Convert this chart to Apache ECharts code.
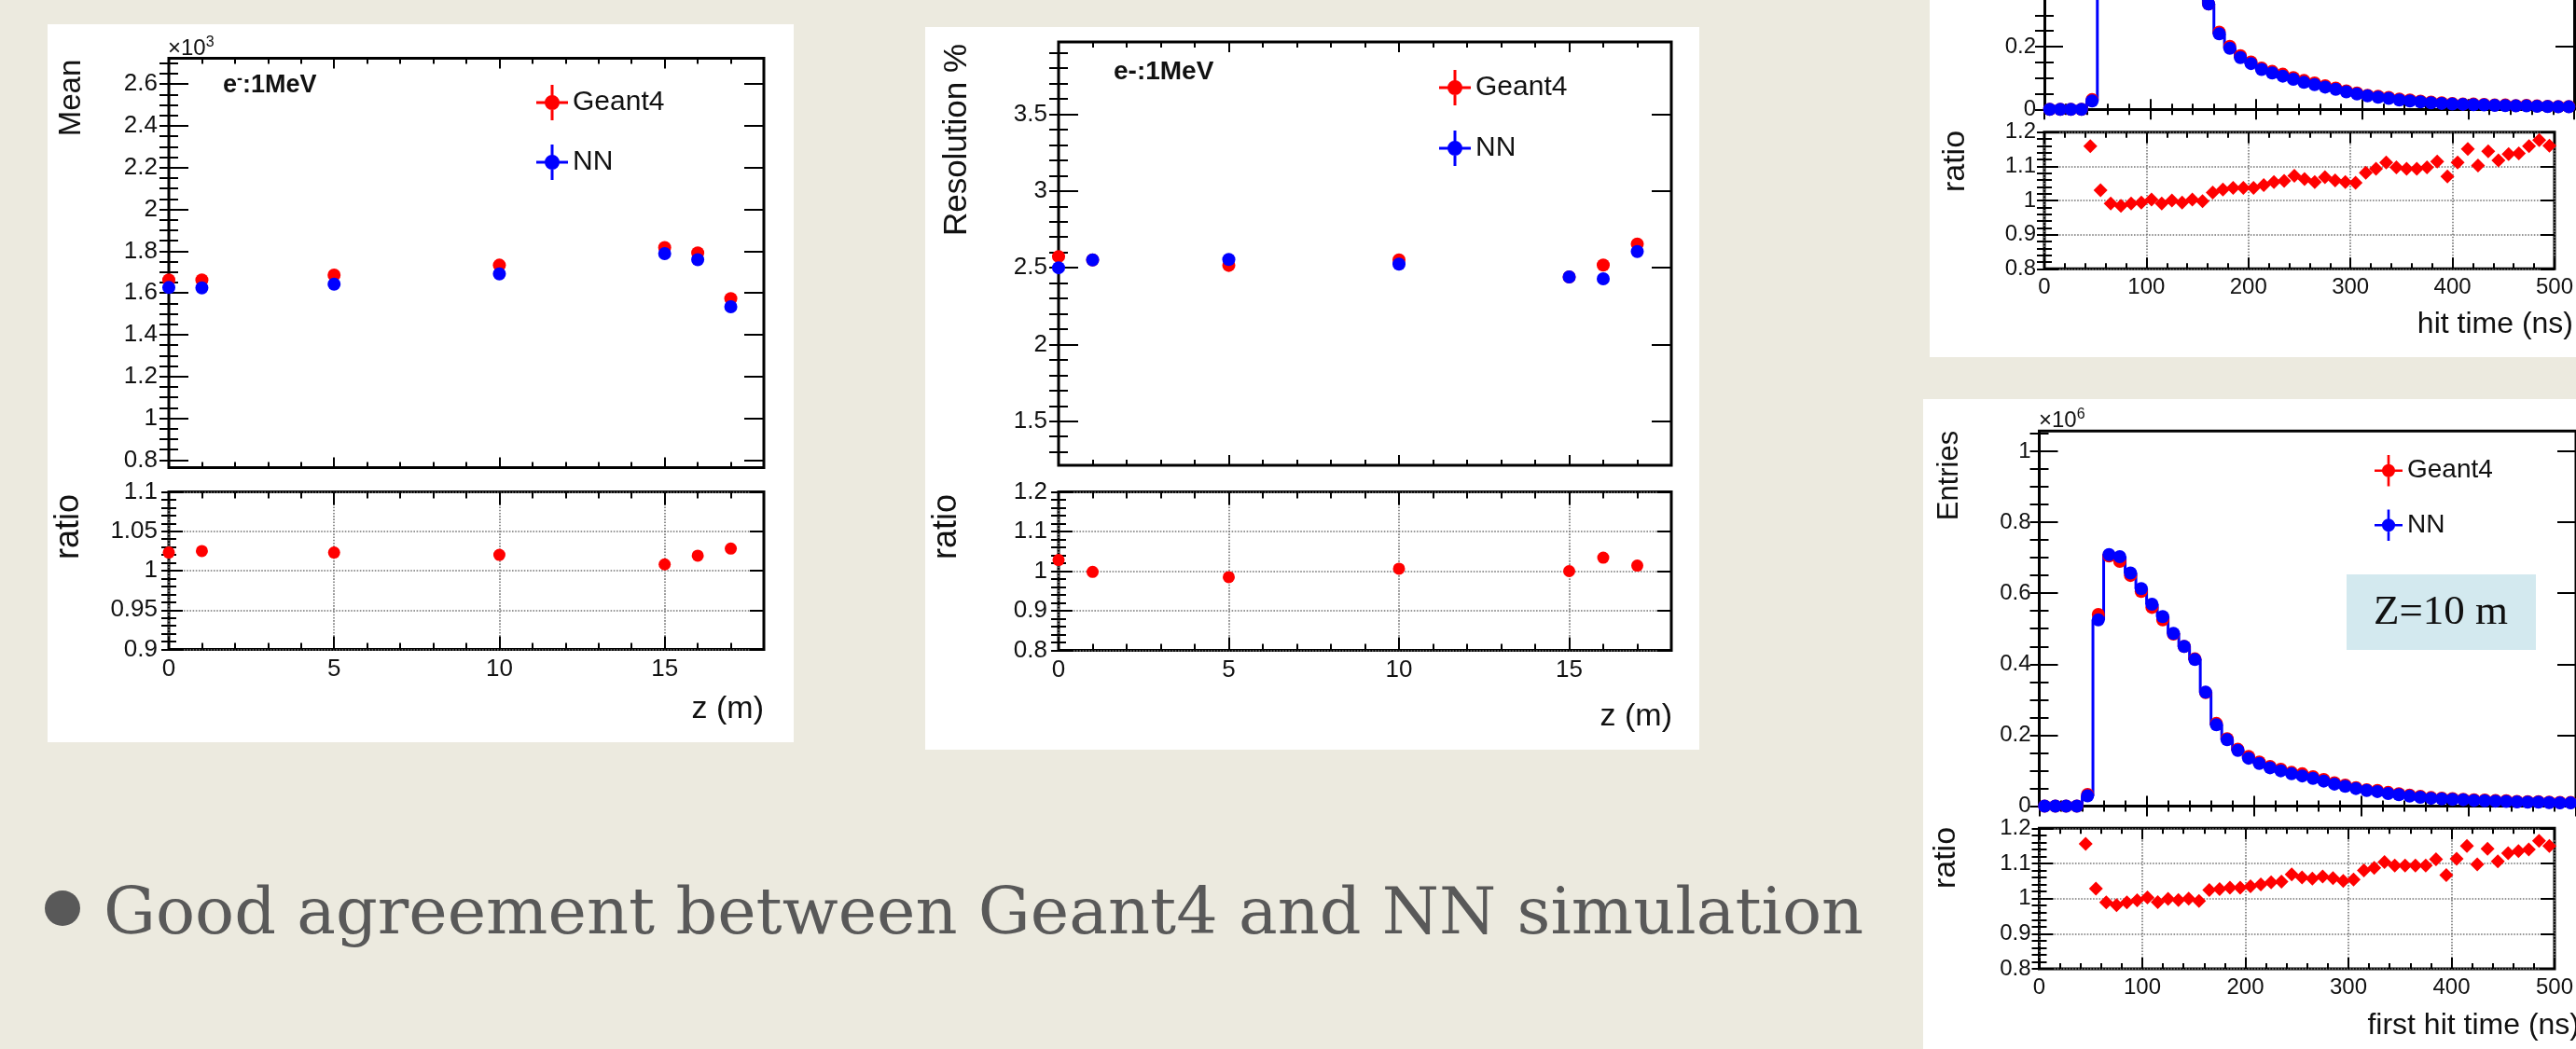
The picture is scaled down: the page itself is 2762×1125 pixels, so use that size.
<!DOCTYPE html>
<html>
<head>
<meta charset="utf-8">
<script src="https://cdn.jsdelivr.net/npm/echarts@6/dist/echarts.min.js"></script>
<style>
html,body{margin:0;padding:0;background:#ECEADF;overflow:hidden;}
.box{position:absolute;background:#fff;}
#c{position:absolute;left:0;top:0;width:2762px;height:1125px;}
</style>
</head>
<body>
<div class="box" style="left:51px;top:26px;width:800px;height:770px;"></div>
<div class="box" style="left:992px;top:29px;width:830px;height:775px;"></div>
<div class="box" style="left:2069px;top:0px;width:693px;height:383px;"></div>
<div class="box" style="left:2062px;top:428px;width:700px;height:697px;"></div>
<div id="c"></div>
<script>
// ---------------- data ----------------
const zPositions = [0, 1, 5, 10, 15, 16, 17];
const meanGeant4 = [1.662, 1.662, 1.686, 1.733, 1.817, 1.792, 1.573];
const meanNN     = [1.626, 1.624, 1.642, 1.691, 1.788, 1.759, 1.534];
const meanRatio  = [1.023, 1.025, 1.023, 1.020, 1.008, 1.019, 1.028];
const resGeant4  = [2.573, 2.551, 2.515, 2.551, 2.440, 2.518, 2.654];
const resNN      = [2.500, 2.551, 2.554, 2.524, 2.440, 2.428, 2.606];
const resRatio   = [1.028, 0.998, 0.985, 1.006, 1.000, 1.034, 1.014];
const resRatioErr = [0.013, 0.011, 0.011, 0.012, 0.011, 0.012, 0.012];

const binCenters = [5,15,25,35,45,55,65,75,85,95,105,115,125,135,145,155,165,175,185,195,
  205,215,225,235,245,255,265,275,285,295,305,315,325,335,345,355,365,375,385,395,
  405,415,425,435,445,455,465,475,485,495];

const hitNN = [0,0,0,0,0.027,0.525,0.709,0.703,0.657,0.613,0.569,0.534,0.487,0.450,0.413,0.336,0.241,0.195,0.165,0.146,
  0.127,0.116,0.106,0.096,0.086,0.079,0.071,0.064,0.056,0.049,0.043,0.039,0.035,0.030,0.027,0.024,0.021,0.019,0.017,0.016,
  0.015,0.014,0.013,0.012,0.011,0.011,0.010,0.009,0.008,0.008];
const hitGeant4 = [0,0,0,0,0.031,0.540,0.705,0.690,0.650,0.605,0.560,0.525,0.485,0.450,0.415,0.336,0.246,0.201,0.171,0.151,
  0.132,0.121,0.112,0.101,0.092,0.084,0.075,0.068,0.059,0.052,0.045,0.042,0.038,0.033,0.030,0.026,0.023,0.021,0.019,0.017,
  0.017,0.016,0.014,0.014,0.012,0.013,0.011,0.010,0.009,0.009];
const hitRatio = [null,null,null,null,1.159,1.030,0.991,0.984,0.991,0.994,1.003,0.991,1.000,0.994,1.003,0.998,1.023,1.032,1.037,1.037,
  1.037,1.045,1.054,1.057,1.072,1.063,1.054,1.068,1.059,1.054,1.052,1.081,1.093,1.111,1.097,1.093,1.093,1.097,1.114,1.070,
  1.111,1.151,1.102,1.144,1.117,1.136,1.138,1.159,1.177,1.160];

const firstHitNN = [0,0,0,0,0.029,0.525,0.709,0.703,0.657,0.613,0.569,0.534,0.487,0.450,0.413,0.321,0.229,0.187,0.157,0.135,
  0.120,0.108,0.0995,0.091,0.085,0.078,0.0705,0.062,0.056,0.0495,0.044,0.041,0.0355,0.032,0.028,0.025,0.022,0.0205,0.019,0.018,
  0.016,0.015,0.014,0.013,0.012,0.011,0.011,0.010,0.009,0.009];
const firstHitGeant4 = [0,0,0,0,0.033,0.540,0.705,0.690,0.650,0.605,0.560,0.525,0.485,0.450,0.415,0.320,0.233,0.190,0.160,0.140,
  0.124,0.112,0.104,0.095,0.091,0.083,0.075,0.066,0.059,0.052,0.046,0.044,0.0385,0.035,0.031,0.0275,0.024,0.0225,0.021,0.019,
  0.018,0.017,0.0155,0.015,0.013,0.0125,0.0125,0.0113,0.0104,0.0103];
const firstHitRatio = [null,null,null,null,1.156,1.028,0.989,0.981,0.989,0.995,1.003,0.990,0.999,0.996,1.000,0.993,1.024,1.027,1.031,1.031,
  1.035,1.040,1.046,1.048,1.069,1.060,1.057,1.063,1.058,1.050,1.054,1.080,1.087,1.104,1.094,1.094,1.094,1.094,1.112,1.067,
  1.113,1.150,1.097,1.142,1.106,1.129,1.135,1.140,1.164,1.150];

// tick labels
const zTicks = [0, 5, 10, 15];
const meanTicks = [0.8, 1, 1.2, 1.4, 1.6, 1.8, 2, 2.2, 2.4, 2.6];
const meanRatioTicks = [0.9, 0.95, 1, 1.05, 1.1];
const resTicks = [1.5, 2, 2.5, 3, 3.5];
const resRatioTicks = [0.8, 0.9, 1, 1.1, 1.2];
const timeTicks = [0, 100, 200, 300, 400, 500];
const entriesTicks = [0, 0.2, 0.4, 0.6, 0.8, 1];
const timeRatioTicks = [0.8, 0.9, 1, 1.1, 1.2];

// ---------------- helpers ----------------
const FONT = '"Liberation Sans", Arial, Helvetica, sans-serif';
const RED = '#ff0000', BLUE = '#0000ff', INK = '#111';
const option = {animation:false, grid:[], xAxis:[], yAxis:[], series:[], legend:[], graphic:[]};

function steps(min, max, step){
  const out = [];
  const s = Math.ceil(min/step - 1e-9);
  for (let i = s; i*step <= max + 1e-9; i++) out.push(+(i*step).toFixed(6));
  return out;
}
function fmt(v){ return String(+(+v).toFixed(4)); }

function addGrid(rect, xs, ys, openTop){
  const gi = option.grid.length;
  option.grid.push(Object.assign({show:!openTop, borderColor:'#000', borderWidth:3, backgroundColor:'transparent'}, rect));
  const xi = option.xAxis.length, yi = option.yAxis.length;
  const tick = {color:'#000', width:2};
  const frame = {show:!!openTop, onZero:false, lineStyle:{color:'#000', width:3}};
  const dotted = {type:'dotted', color:'#777', width:1.6};
  ['bottom','top'].forEach((pos,k)=>{
    option.xAxis.push({type:'value', gridIndex:gi, position:pos, min:xs.min, max:xs.max,
      axisLine: k===0 ? frame : {show:false},
      axisTick:{show:true, inside:true, length:xs.maj, lineStyle:tick, customValues:xs.major},
      axisLabel:{show:k===0 && !!xs.labels, customValues:xs.major, margin:xs.margin||8, fontSize:xs.fs||24,
        color:INK, fontFamily:FONT, formatter:fmt},
      splitLine:{show:k===0 && !!xs.grid, lineStyle:dotted}});
    option.xAxis.push({type:'value', gridIndex:gi, position:pos, min:xs.min, max:xs.max,
      axisLine:{show:false},
      axisTick:{show:true, inside:true, length:xs.mnr, lineStyle:tick, customValues:xs.minor},
      axisLabel:{show:false}, splitLine:{show:false}});
  });
  ['left','right'].forEach((pos,k)=>{
    option.yAxis.push({type:'value', gridIndex:gi, position:pos, min:ys.min, max:ys.max,
      axisLine: frame,
      axisTick:{show:true, inside:true, length:ys.maj, lineStyle:tick, customValues:ys.major},
      axisLabel:{show:k===0, customValues:ys.major, margin:ys.margin||12, fontSize:ys.fs||24,
        color:INK, fontFamily:FONT, formatter:fmt},
      splitLine:{show:k===0 && !!ys.grid, lineStyle:dotted}});
    option.yAxis.push({type:'value', gridIndex:gi, position:pos, min:ys.min, max:ys.max,
      axisLine:{show:false},
      axisTick:{show:true, inside:true, length:ys.mnr, lineStyle:tick, customValues:ys.minor},
      axisLabel:{show:false}, splitLine:{show:false}});
  });
  return {xi, yi};
}
function pairs(xs, ys){ const o=[]; xs.forEach((x,i)=>{ if (ys[i]!=null) o.push([x, ys[i]]); }); return o; }
function scatter(name, ax, data, color, symbol, size){
  option.series.push({type:'scatter', name, xAxisIndex:ax.xi, yAxisIndex:ax.yi, data,
    symbol, symbolSize:size, itemStyle:{color, opacity:1}, z:3, clip:true});
}
function errorBars(name, ax, xs, ys, errs, color){
  const data = xs.map((x,i)=>[x, ys[i]-errs[i], ys[i]+errs[i]]);
  option.series.push({type:'custom', name, xAxisIndex:ax.xi, yAxisIndex:ax.yi, data, z:3, clip:true,
    encode:{x:0, y:[1,2]},
    renderItem:(params, api)=>{
      const lo = api.coord([api.value(0), api.value(1)]);
      const hi = api.coord([api.value(0), api.value(2)]);
      return {type:'line', shape:{x1:lo[0], y1:lo[1], x2:hi[0], y2:hi[1]}, style:{stroke:color, lineWidth:3}};
    }});
}
function hist(name, ax, xs, ys, xmax, color){
  const d = [[0, 0]].concat(pairs(xs, ys)).concat([[xmax, ys[ys.length-1]]]);
  option.series.push({type:'line', name, xAxisIndex:ax.xi, yAxisIndex:ax.yi, data:d, step:'middle',
    showSymbol:false, symbol:'none', lineStyle:{color, width:3}, itemStyle:{color}, z:3, clip:true});
}
function txt(x, y, text, o){
  option.graphic.push(Object.assign({type:'text', x, y, z:50, silent:true,
    style:Object.assign({text, fill:INK, font:(o&&o.font)||('30px '+FONT), align:'left', verticalAlign:'middle'}, (o&&o.style)||{})},
    o && o.rotation!=null ? {rotation:o.rotation} : {}));
}
function vtxt(x, y, text, size){
  txt(x, y, text, {font: size+'px '+FONT, rotation: Math.PI/2, style:{align:'center'}});
}
const LEG_ICON = 'path://M15.5 0H18.5V38H15.5Z M0 17.5H34V20.5H0Z M9 19A8 8 0 1 1 25 19A8 8 0 1 1 9 19Z';
function legend(left, top, w, h, gap, fs){
  option.legend.push({data:['Geant4','NN'], orient:'vertical', left, top, itemWidth:w, itemHeight:h, itemGap:gap,
    icon:LEG_ICON, padding:0, selectedMode:false, textStyle:{fontSize:fs, fontFamily:FONT, color:INK}});
}

// ---------------- panel 1 : Mean ----------------
const p1u = addGrid({left:181, top:62.5, width:638, height:439},
  {min:0, max:18, major:zTicks, minor:steps(0,18,1), maj:11, mnr:6},
  {min:0.764, max:2.723, major:meanTicks, minor:steps(0.764,2.723,0.05), maj:21, mnr:10, fs:26});
const p1r = addGrid({left:181, top:527.5, width:638, height:169},
  {min:0, max:18, major:zTicks, minor:steps(0,18,1), maj:14, mnr:7, labels:true, grid:true, fs:26},
  {min:0.9, max:1.1, major:meanRatioTicks, minor:steps(0.9,1.1,0.01), maj:15, mnr:8, grid:true, fs:26});
scatter('Geant4', p1u, pairs(zPositions, meanGeant4), RED, 'circle', 14);
scatter('NN', p1u, pairs(zPositions, meanNN), BLUE, 'circle', 14);
scatter('Geant4', p1r, pairs(zPositions, meanRatio), RED, 'circle', 13);
legend(575, 91, 34, 38, 26, 30);

// ---------------- panel 2 : Resolution ----------------
const p2u = addGrid({left:1135, top:45, width:657, height:454},
  {min:0, max:18, major:zTicks, minor:steps(0,18,1), maj:11, mnr:6},
  {min:1.213, max:3.971, major:resTicks, minor:steps(1.213,3.971,0.1), maj:21, mnr:10, fs:26});
const p2r = addGrid({left:1135, top:527.5, width:657, height:170},
  {min:0, max:18, major:zTicks, minor:steps(0,18,1), maj:14, mnr:7, labels:true, grid:true, fs:26},
  {min:0.8, max:1.2, major:resRatioTicks, minor:steps(0.8,1.2,0.02), maj:15, mnr:8, grid:true, fs:26});
scatter('Geant4', p2u, pairs(zPositions, resGeant4), RED, 'circle', 14);
scatter('NN', p2u, pairs(zPositions, resNN), BLUE, 'circle', 14);
errorBars('Geant4', p2r, zPositions, resRatio, resRatioErr, RED);
scatter('Geant4', p2r, pairs(zPositions, resRatio), RED, 'circle', 13);
legend(1543, 75, 34, 38, 27, 30);

// ---------------- panel 3 : hit time (frame top is above the slide edge) ----------------
const p3u = addGrid({left:2192, top:0, width:568, height:117.3},
  {min:0, max:500, major:timeTicks, minor:steps(0,500,20), maj:11, mnr:6},
  {min:0, max:0.3486, major:entriesTicks, minor:steps(0,0.3486,0.05), maj:20, mnr:10, margin:9}, true);
const p3r = addGrid({left:2192, top:141.7, width:568, height:146.6},
  {min:0, max:500, major:timeTicks, minor:steps(0,500,20), maj:12, mnr:6, labels:true, grid:true},
  {min:0.8, max:1.2, major:timeRatioTicks, minor:steps(0.8,1.2,0.02), maj:15, mnr:8, grid:true, margin:9});
scatter('Geant4', p3u, pairs(binCenters, hitGeant4), RED, 'circle', 14);
hist('NN', p3u, binCenters, hitNN, 500, BLUE);
scatter('NN', p3u, pairs(binCenters, hitNN), BLUE, 'circle', 14);
scatter('Geant4', p3r, pairs(binCenters, hitRatio), RED, 'diamond', 15);

// ---------------- panel 4 : first hit time ----------------
const p4u = addGrid({left:2186.5, top:462.3, width:579, height:402.2},
  {min:0, max:500, major:timeTicks, minor:steps(0,500,20), maj:11, mnr:6},
  {min:0, max:1.057, major:entriesTicks, minor:steps(0,1.057,0.05), maj:20, mnr:10, margin:9});
const p4r = addGrid({left:2186.5, top:888.3, width:579, height:150.7},
  {min:0, max:500, major:timeTicks, minor:steps(0,500,20), maj:12, mnr:6, labels:true, grid:true},
  {min:0.8, max:1.2, major:timeRatioTicks, minor:steps(0.8,1.2,0.02), maj:15, mnr:8, grid:true, margin:9});
scatter('Geant4', p4u, pairs(binCenters, firstHitGeant4), RED, 'circle', 14);
hist('NN', p4u, binCenters, firstHitNN, 500, BLUE);
scatter('NN', p4u, pairs(binCenters, firstHitNN), BLUE, 'circle', 14);
scatter('Geant4', p4r, pairs(binCenters, firstHitRatio), RED, 'diamond', 15);
legend(2546, 488, 30, 35, 25, 28);

// ---------------- texts ----------------
const supRich = {b:{fontSize:24, fontFamily:FONT, fill:INK}, s:{fontSize:16, fontFamily:FONT, fill:INK, verticalAlign:'top', padding:[0,0,12,0]}};
option.graphic.push({type:'text', x:180, y:52, z:50, style:{text:'{b|×10}{s|3}', rich:supRich, verticalAlign:'middle', fill:INK}});
option.graphic.push({type:'text', x:2186, y:451, z:50, style:{text:'{b|×10}{s|6}', rich:supRich, verticalAlign:'middle', fill:INK}});
vtxt(77, 105, 'Mean', 33);
vtxt(74, 565, 'ratio', 36);
option.graphic.push({type:'text', x:239, y:92, z:50, style:{text:'{b|e}{s|-}{b|:1MeV}', verticalAlign:'middle', fill:INK,
  rich:{b:{fontSize:27, fontWeight:'bold', fontFamily:FONT, fill:INK}, s:{fontSize:18, fontWeight:'bold', fontFamily:FONT, fill:INK, padding:[0,0,14,0]}}}});
txt(819, 761, 'z (m)', {font:'34px '+FONT, style:{align:'right'}});

vtxt(1026, 150, 'Resolution %', 35);
vtxt(1015, 565, 'ratio', 36);
txt(1194, 77, 'e-:1MeV', {font:'bold 28px '+FONT});
txt(1793, 769, 'z (m)', {font:'34px '+FONT, style:{align:'right'}});

vtxt(2097, 173, 'ratio', 34);
txt(2759, 348, 'hit time (ns)', {font:'32px '+FONT, style:{align:'right'}});

vtxt(2090, 510, 'Entries', 31);
vtxt(2087, 920, 'ratio', 34);
txt(2766, 1100, 'first hit time (ns)', {font:'32px '+FONT, style:{align:'right'}});

option.graphic.push({type:'rect', z:40, silent:true, shape:{x:2516, y:616, width:203, height:81}, style:{fill:'#d3e9ef'}});
txt(2617, 657, 'Z=10 m', {font:'45px "Liberation Serif", "Times New Roman", serif', style:{align:'center', fill:'#111'}});

option.graphic.push({type:'circle', z:50, silent:true, shape:{cx:67, cy:974, r:19}, style:{fill:'#595959'}});
txt(111, 983, 'Good agreement between Geant4 and NN simulation', {font:'70px "DejaVu Serif", serif', style:{fill:'#595959'}});

const chart = echarts.init(document.getElementById('c'), null, {renderer:'canvas', width:2762, height:1125});
chart.setOption(option);
</script>
</body>
</html>
